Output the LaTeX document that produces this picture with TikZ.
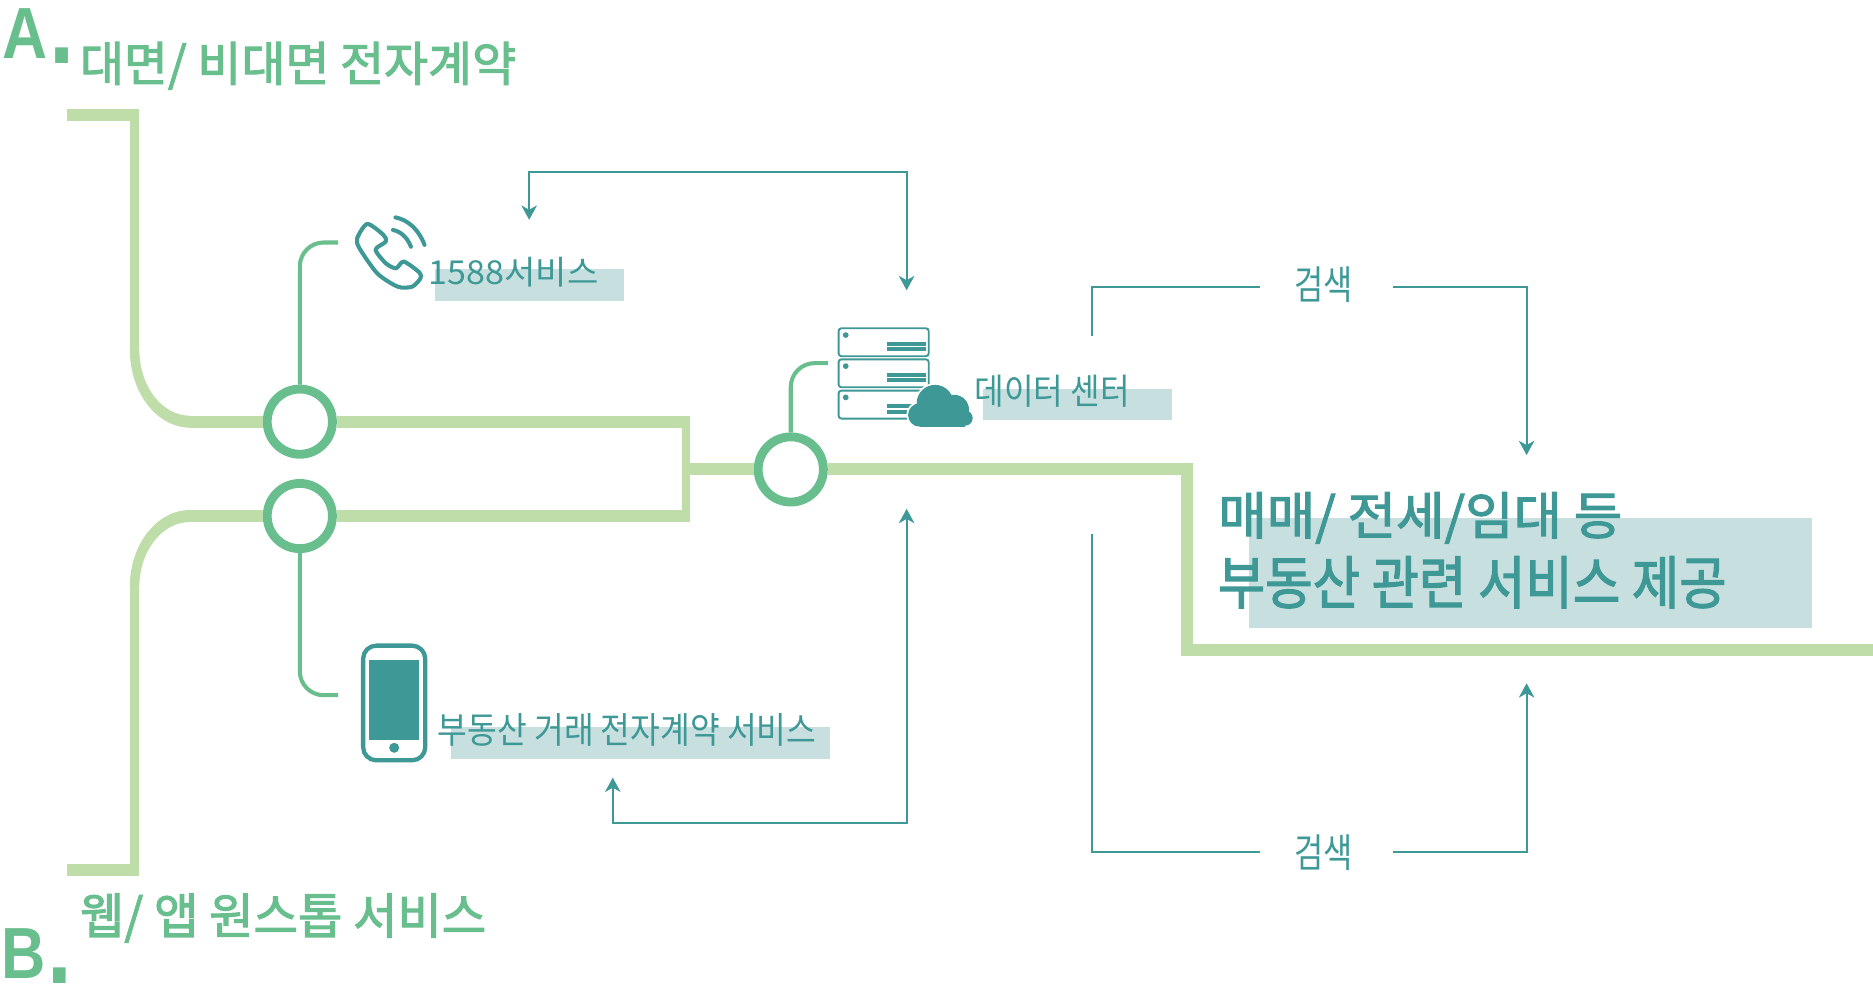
\documentclass[tikz,border=0pt]{standalone}
\usepackage{fontspec}
\usepackage{graphicx}
\setmainfont{Noto Sans CJK KR}
\newfontfamily\medfont{Noto Sans CJK KR}[FakeBold=2.2]
\newfontfamily\latinbold{Liberation Sans}[BoldFont={Liberation Sans Bold}]
\usetikzlibrary{arrows.meta}
\definecolor{barg}{HTML}{BFDDA9}
\definecolor{ringg}{HTML}{69BE8E}
\definecolor{teal1}{HTML}{3D9896}
\definecolor{hili}{HTML}{C7E0DF}
\newdimen\uu \uu=0.5pt
\newcommand\fitt[3]{\resizebox*{#1\uu}{#2\uu}{#3}}
\newcommand\bigdot{\kern0.03em\raisebox{-0.07em}{\makebox[0.3em][l]{\scalebox{1.45}{.}}}}
\tikzset{
  tx/.style={inner sep=0pt,outer sep=0pt,anchor=center},
  titlegreen/.style={tx,text=ringg},
  tealtext/.style={tx,text=teal1},
  hilite/.style={fill=hili,draw=none},
  thick bar/.style={draw=barg,line width=5pt,line join=miter},
  slim bar/.style={draw=barg,line width=4pt,line join=miter},
  ring/.style={circle,draw=ringg,line width=3.7pt,fill=white,minimum size=27.3pt,inner sep=0pt,outer sep=1.85pt},
  stem/.style={draw=ringg,line width=1.7pt,rounded corners=10pt},
  link/.style={draw=teal1,line width=0.8pt},
  tealtip/.tip={Stealth[length=6pt,width=6.5pt,inset=1.8pt]},
  iconline/.style={draw=teal1,line width=1.7pt,line cap=round,line join=round},
  rack/.style={draw=teal1,line width=0.8pt,rounded corners=1.2pt,fill=white},
  rackbar/.style={fill=teal1,draw=none},
}
\begin{document}
\begin{tikzpicture}[x=0.5pt,y=-0.5pt]
\useasboundingbox (0,0) rectangle (1568,834.6);

% highlights
\fill[hilite] (364,225) rectangle (522,252);
\fill[hilite] (823,325.5) rectangle (981,352);
\fill[hilite] (377.6,608.6) rectangle (695,635.4);
\fill[hilite] (1046,433.6) rectangle (1517,525.8);

% named free ends
\coordinate (ta0) at (56,96.5);
\coordinate (ta1) at (112.7,96.5);
\coordinate (ta2) at (112.7,294);
\coordinate (tb0) at (56,728);
\coordinate (tb1) at (112.7,728);
\coordinate (tb2) at (112.7,490);
\coordinate (j1) at (574.5,348);
\coordinate (j2) at (574.5,437);
\coordinate (j3) at (574.5,393);
\coordinate (ja) at (578,353);
\coordinate (jb) at (578,432);
\coordinate (m1) at (994,393);
\coordinate (m2) at (994,544);
\coordinate (m3) at (1568,544);

% rings
\node[ring] (nA) at (251,353) {};
\node[ring] (nB) at (251,432) {};
\node[ring] (nC) at (662,393) {};

% bars
\draw[thick bar] (ta0) -- (116.7,96.5);
\draw[slim bar] (ta1) ++(0,-5) -- (ta2);
\fill[barg] (108.7,293) .. controls (108.7,328.7) and (131.4,358) .. (159,358) -- (159,348) .. controls (135.6,348) and (116.7,323.3) .. (116.7,293) -- cycle;
\draw[thick bar] (158,353) -- (nA.west);
\draw[thick bar] (nA.east) -- (ja);
\draw[thick bar] (tb0) -- (116.7,728);
\draw[slim bar] (tb1) ++(0,5) -- (tb2);
\fill[barg] (108.7,491) .. controls (108.7,455.6) and (131.4,427) .. (159,427) -- (159,437) .. controls (135.6,437) and (116.7,461.5) .. (116.7,491) -- cycle;
\draw[thick bar] (158,432) -- (nB.west);
\draw[thick bar] (nB.east) -- (jb);
\draw[draw=barg,line width=3.5pt] (j1) -- (j2);
\draw[thick bar] (j3) -- (nC.west);
\draw[thick bar] (nC.east) -- (m1) -- (m2) -- (m3);

% stems
\coordinate (s1) at (283,203);
\coordinate (s2) at (283,582);
\coordinate (s3) at (693,304);
\draw[stem] (nA.north) -- (251,203) -- (s1);
\draw[stem] (nB.south) -- (251,582) -- (s2);
\draw[stem] (nC.north) -- (662,304) -- (s3);

% search arrows
\coordinate (a1) at (443,184);
\coordinate (a2) at (759,243);
\draw[link,{tealtip}-{tealtip}] (a1) -- (443,144) -- (759,144) -- (a2);
\coordinate (b1) at (759,426);
\coordinate (b2) at (513,651);
\draw[link,{tealtip}-{tealtip}] (b1) -- (759,689) -- (513,689) -- (b2);
\coordinate (c0) at (914,281);
\coordinate (c1) at (1055,240);
\coordinate (c2) at (1166,240);
\coordinate (c3) at (1278,381);
\draw[link] (c0) -- (914,240) -- (c1);
\draw[link,-{tealtip}] (c2) -- (1278,240) -- (c3);
\coordinate (d0) at (914,447);
\coordinate (d1) at (1055,713);
\coordinate (d2) at (1166,713);
\coordinate (d3) at (1278,572);
\draw[link] (d0) -- (914,713) -- (d1);
\draw[link,-{tealtip}] (d2) -- (1278,713) -- (d3);

% texts
\node[titlegreen] (la) at (29.5,30) {\fitt{55}{46}{\latinbold\bfseries A\bigdot}};
\node[titlegreen] (lb) at (28.5,800) {\fitt{54}{46}{\latinbold\bfseries B\bigdot}};
\node[titlegreen] (ta) at (249.5,55) {\fitt{365}{40}{\medfont 대면/ 비대면 전자계약}};
\node[titlegreen] (tb) at (237,768.5) {\fitt{340}{41}{\medfont 웹/ 앱 원스톱 서비스}};
\node[tealtext] (t1) at (430,227.5) {\fitt{142}{25}{1588서비스}};
\node[tealtext] (t2) at (881,327.5) {\fitt{130}{27}{데이터 센터}};
\node[tealtext] (t3) at (525,611) {\fitt{317}{27.5}{부동산 거래 전자계약 서비스}};
\node[tealtext] (s4) at (1108,238) {\fitt{49}{30}{검색}};
\node[tealtext] (s5) at (1108,714) {\fitt{49}{30}{검색}};
\node[tealtext] (t4) at (1189,433.5) {\fitt{338}{43}{\medfont 매매/ 전세/임대 등}};
\node[tealtext] (t5) at (1232.5,487.5) {\fitt{426}{43.5}{\medfont 부동산 관련 서비스 제공}};

% phone handset icon
\draw[iconline] plot[smooth cycle,tension=0.45] coordinates {(307.5,187.5) (299,199.5) (301,208) (316,229) (333,240) (345,240) (352,233) (351,228) (338,219) (331.5,224.6) (323,220.4) (314.4,209) (323,202.3) (321,196.7)};
\draw[iconline] (331,182) .. controls (342,184) and (351,193) .. (355.4,205);
\draw[iconline] (329,192.5) .. controls (336,194) and (341,199) .. (344,206.5);

% smartphone icon
\draw[draw=teal1,line width=1.8pt,rounded corners=5.5pt,fill=white] (304,540.5) rectangle (356,636.5);
\fill[teal1] (309,552.5) rectangle (351,619.5);
\fill[teal1] (330,626) circle (4.2);

% server icon
\foreach \yy in {274.8,300.8,327}{
  \draw[rack] (702,\yy) rectangle (777.5,\yy+23.4);
  \fill[teal1] (708,\yy+5.7) circle (2.4);
  \fill[rackbar] (742.6,\yy+11.6) rectangle (775,\yy+14.8);
  \fill[rackbar] (742.6,\yy+16) rectangle (775,\yy+19.2);
}
% cloud
\foreach \c/\r in {{(782.8,337.6)}/15.4,{(798.7,343)}/12.5,{(770,347.4)}/9.8,{(807.9,350)}/6.4}{
  \draw[white,line width=1.5pt,fill=white] \c circle (\r);
}
\foreach \c/\r in {{(782.8,337.6)}/15.4,{(798.7,343)}/12.5,{(770,347.4)}/9.8,{(807.9,350)}/6.4}{
  \fill[teal1] \c circle (\r);
}
\fill[teal1] (770,343) rectangle (808,357.2);
\end{tikzpicture}
\end{document}
